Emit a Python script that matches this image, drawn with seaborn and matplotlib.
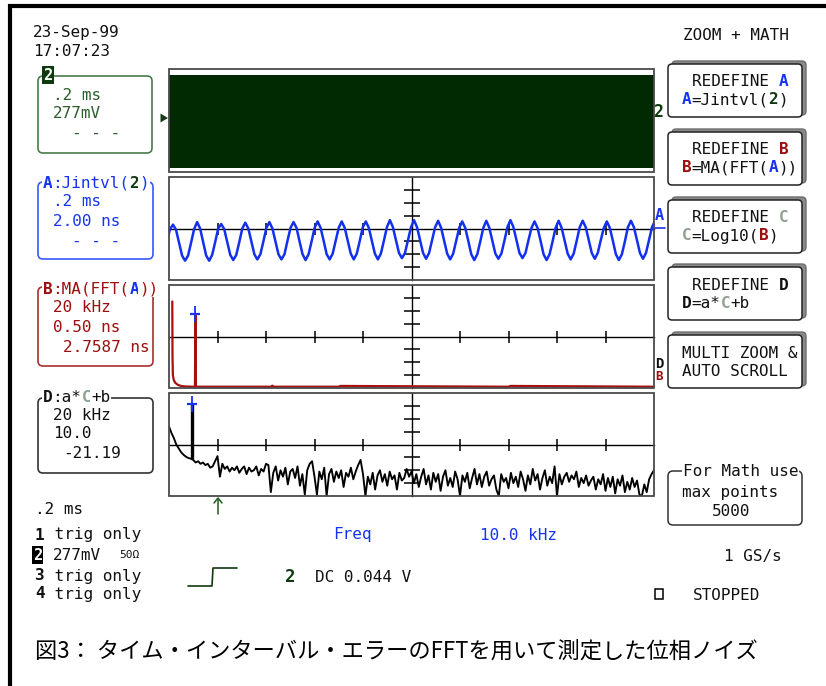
import numpy as np
import pandas as pd
import matplotlib
matplotlib.use("Agg")
import matplotlib.pyplot as plt
import seaborn as sns
from matplotlib.patches import FancyBboxPatch, Rectangle, Polygon

# ------------------------------------------------------------------ data
# Channel 2 (panel 1): envelope of the dense 10 kHz-modulated clock, mV
ch2_time_ms = [0.0, 2.0]
ch2_top_mV = [978.0, 978.0]
ch2_bottom_mV = [-1022.0, -1022.0]

# Trace A: Jintvl(2) - time-interval error, ns (uniform sample clock)
A_t_start_ms = -0.0083
A_dt_ms = 0.012423
A_jitter_ns = [
    -2.0,
    -0.1, 0.6, -0.2, -2.2, -4.2, -5.0, -4.2, -2.2,
    -0.1, 1.0, 0.0, -2.1, -4.2, -5.0, -4.1, -2.1,
    0.0, 0.7, -0.1, -2.1, -4.1, -4.9, -4.1, -2.1,
    0.0, 0.9, 0.0, -2.0, -4.0, -4.8, -4.0, -2.0,
    0.1, 1.0, 0.0, -2.0, -4.0, -4.8, -4.0, -1.9,
    0.1, 1.0, 0.1, -2.0, -4.0, -4.9, -4.0, -2.0,
    0.1, 1.1, 0.1, -1.9, -4.0, -4.8, -3.9, -1.9,
    0.1, 1.1, 0.1, -1.9, -3.9, -4.8, -3.9, -1.9,
    0.2, 1.1, 0.1, -1.9, -3.9, -4.8, -3.9, -1.9,
    0.2, 1.3, 0.2, -1.8, -3.8, -4.6, -3.8, -1.8,
    0.2, 1.3, 0.2, -1.8, -3.8, -4.7, -3.8, -1.8,
    0.2, 1.2, 0.1, -1.9, -3.9, -4.8, -3.9, -1.9,
    0.1, 1.1, 0.1, -1.9, -4.0, -4.9, -4.0, -2.0,
    0.1, 1.2, 0.1, -1.9, -3.9, -4.7, -3.9, -1.9,
    0.2, 1.3, 0.2, -1.8, -3.8, -4.6, -3.8, -1.8,
    0.1, 1.1, 0.1, -1.9, -4.0, -4.9, -4.0, -2.0,
    0.1, 1.2, 0.1, -1.9, -3.9, -4.8, -3.9, -1.9,
    0.2, 1.2, 0.2, -1.8, -3.8, -4.7, -3.8, -1.8,
    0.1, 1.1, 0.1, -1.9, -4.0, -4.9, -4.0, -2.0,
    0.2, 1.2, 0.2, -1.8, -3.8, -4.7, -3.8, -1.8,
    0.2, 1.2,
]

# Trace B: MA(FFT(A)) magnitude, ns
B_freq_kHz = [1.36, 1.45, 1.6, 2.0, 2.6, 3.7, 5.0, 6.6, 10.7, 10.9, 11.1,
              42.0, 42.6, 43.2, 70.0, 70.6, 140.0, 140.8, 200.0]
B_mag_ns = [3.36, 1.2, 0.5, 0.3, 0.2, 0.12, 0.08, 0.06, 0.05, 2.88, 0.05,
            0.05, 0.09, 0.05, 0.05, 0.08, 0.05, 0.08, 0.05]
B_cursor_kHz = 10.9
B_cursor_ns = 2.88

# Trace D: a*Log10(B)+b, dB (1 kHz bins)
D_freq_step_kHz = 1.0
D_dB = [
    -39, -44, -48, -53, -56, -59, -61, -62.5, -63.5, -64,
    -65, -67, -66, -68, -67, -69, -68, -71, -70, -66,
    -62, -78, -68, -72, -70, -74, -71, -73, -70, -75,
    -72, -70, -76, -71, -74, -73, -70, -77, -72, -74,
    -68, -69, -90, -75, -70, -81, -73, -78, -71, -84,
    -74, -72, -79, -70, -85, -76, -92, -73, -68, -66,
    -78, -92, -74, -80, -71, -93, -76, -72, -82, -74,
    -79, -73, -86, -75, -78, -71, -80, -74, -69, -65,
    -76, -93, -78, -84, -75, -88, -77, -73, -82, -76,
    -85, -74, -80, -77, -88, -75, -81, -79, -72, -78,
    -74, -83, -76, -86, -78, -72, -84, -77, -88, -75,
    -82, -76, -89, -78, -73, -85, -79, -86, -74, -80,
    -93, -77, -82, -75, -87, -79, -72, -84, -76, -86,
    -78, -74, -85, -80, -77, -88, -93, -76, -82, -79,
    -87, -75, -83, -78, -86, -74, -80, -89, -77, -84,
    -72, -81, -76, -88, -79, -73, -85, -78, -83, -70,
    -93, -76, -84, -78, -75, -82, -77, -80, -74, -86,
    -79, -83, -77, -85, -81, -78, -88, -80, -84, -76,
    -89, -79, -86, -78, -91, -80, -85, -77, -90, -82,
    -88, -79, -86, -81, -92, -93, -84, -90, -80, -76, -73,
]
D_spike_kHz = 9.6
D_spike_base_dB = -64.0
D_spike_dB = -21.19

# Scales (per division) and axis ranges
time_per_div_ms = 0.2
freq_per_div_kHz = 20.0
ch2_mV_per_div = 277.0
A_ns_per_div = 2.0
B_ns_per_div = 0.5
B_center_ns = 2.0
D_dB_per_div = 10.0
D_center_dB = -53.0

# ------------------------------------------------------------------ style
sns.set_style("white")
plt.rcParams['font.family'] = ['DejaVu Sans Mono', 'DejaVu Sans']

W, H = 826, 686
fig = plt.figure(figsize=(W / 100, H / 100), dpi=100)
fig.patch.set_facecolor('white')

GREEN = '#0f3a0f'
GREEN_TXT = '#2d5e2d'
BLUE = '#1634f0'
RED = '#9c0f0f'
GRAY_C = '#8fa08f'
BLACK = '#111111'
FS = 11.5
CW = 0.602 * FS * 100 / 72


def px_rect(x0, y0, x1, y1):
    return [x0 / W, 1 - y1 / H, (x1 - x0) / W, (y1 - y0) / H]


# background overlay in pixel coordinates
bg = fig.add_axes([0, 0, 1, 1], zorder=0)
bg.set_xlim(0, W)
bg.set_ylim(H, 0)
bg.axis('off')


def seg_text(x, y, segs, fs=FS, mask=False):
    cw = CW * fs / FS
    for s, color, bold in segs:
        kw = {}
        if mask:
            kw['bbox'] = dict(fc='white', ec='none', pad=0.6)
        bg.text(x, y, s, color=color, fontsize=fs,
                fontweight='bold' if bold else 'normal',
                family='DejaVu Sans Mono', ha='left', va='center',
                zorder=6, **kw)
        x += len(s) * cw


def rbox(x0, y0, x1, y1, ec, lw=1.2, r=5, fc='white', z=2):
    bg.add_patch(FancyBboxPatch((x0, y0), x1 - x0, y1 - y0,
                                boxstyle=f'round,pad=0,rounding_size={r}',
                                fc=fc, ec=ec, lw=lw, zorder=z))


# outer frame (left + top)
bg.plot([9.5, 9.5], [4, H], color='black', lw=3, solid_capstyle='butt')
bg.plot([8, W], [5.5, 5.5], color='black', lw=3, solid_capstyle='butt')

# ------------------------------------------------------------------ panels
PX0, PX1 = 169, 654
panel_y = [(69, 172), (177, 280), (285, 388), (393, 496)]


def setup_panel(ax, xlim, ylim, xdiv, ydiv, cross=True):
    ax.set_xlim(*xlim)
    ax.set_ylim(*ylim)
    ax.set_facecolor('white')
    xmid = (xlim[0] + xlim[1]) / 2
    ymid = (ylim[0] + ylim[1]) / 2
    for s in ['top', 'right']:
        ax.spines[s].set_visible(False)
    if cross:
        ax.spines['left'].set_position(('data', xmid))
        ax.spines['bottom'].set_position(('data', ymid))
        for s in ['left', 'bottom']:
            ax.spines[s].set_visible(True)
            ax.spines[s].set_color('black')
            ax.spines[s].set_linewidth(1.0)
            ax.spines[s].set_zorder(1.5)
        ax.set_xticks([xlim[0] + i * xdiv for i in range(1, 10) if i != 5])
        ax.set_yticks([ylim[0] + i * ydiv for i in range(1, 8) if i != 4])
        ax.tick_params(axis='x', which='major', bottom=True, top=False,
                       direction='inout', length=8, width=1.1,
                       color='black', labelbottom=False)
        ax.tick_params(axis='y', which='major', left=True, right=False,
                       direction='inout', length=11, width=1.1,
                       color='black', labelleft=False)
    else:
        for s in ['left', 'bottom']:
            ax.spines[s].set_visible(False)
        ax.set_xticks([])
        ax.set_yticks([])
    ax.set_xlabel('')
    ax.set_ylabel('')
    ax.add_patch(Rectangle((0, 0), 1, 1, transform=ax.transAxes, fill=False,
                           ec='#4a4a4a', lw=1.3, clip_on=False, zorder=5))


axes = [fig.add_axes(px_rect(PX0, y0, PX1, y1), zorder=1) for (y0, y1) in panel_y]
t_lim = (0.0, 10 * time_per_div_ms)
f_lim = (0.0, 10 * freq_per_div_kHz)

# Panel 1: channel 2
ax = axes[0]
setup_panel(ax, t_lim, (-4 * ch2_mV_per_div, 4 * ch2_mV_per_div),
            time_per_div_ms, ch2_mV_per_div, cross=False)
ax.fill_between(ch2_time_ms, ch2_bottom_mV, ch2_top_mV, color='#012a03', lw=0)

# Panel 2: A
ax = axes[1]
A_time = A_t_start_ms + A_dt_ms * np.arange(len(A_jitter_ns))
dfA = pd.DataFrame({'t': A_time, 'v': A_jitter_ns})
sns.lineplot(data=dfA, x='t', y='v', ax=ax, color='#1230ee', lw=1.8,
             estimator=None, sort=False, legend=False, zorder=3)
setup_panel(ax, t_lim, (-4 * A_ns_per_div, 4 * A_ns_per_div),
            time_per_div_ms, A_ns_per_div)

# Panel 3: B
ax = axes[2]
dfB = pd.DataFrame({'f': B_freq_kHz, 'v': B_mag_ns})
sns.lineplot(data=dfB, x='f', y='v', ax=ax, color='#a81010', lw=1.6,
             estimator=None, sort=False, legend=False, zorder=3)
ax.plot([B_cursor_kHz], [B_cursor_ns], marker='|', ms=12, mew=1.3, color=BLUE, zorder=6)
ax.plot([B_cursor_kHz], [B_cursor_ns], marker='_', ms=7, mew=1.6, color=BLUE, zorder=6)
setup_panel(ax, f_lim, (B_center_ns - 4 * B_ns_per_div, B_center_ns + 4 * B_ns_per_div),
            freq_per_div_kHz, B_ns_per_div)

# Panel 4: D
ax = axes[3]
dfD = pd.DataFrame({'f': np.arange(len(D_dB)) * D_freq_step_kHz, 'v': D_dB})
sns.lineplot(data=dfD, x='f', y='v', ax=ax, color='black', lw=1.35,
             estimator=None, sort=False, legend=False, zorder=3)
ax.vlines(D_spike_kHz, D_spike_base_dB, D_spike_dB, color='black', lw=2.4, zorder=3)
ax.plot([D_spike_kHz], [D_spike_dB], marker='|', ms=11, mew=1.3, color=BLUE, zorder=6)
ax.plot([D_spike_kHz], [D_spike_dB], marker='_', ms=7, mew=1.6, color=BLUE, zorder=6)
setup_panel(ax, f_lim, (D_center_dB - 4 * D_dB_per_div, D_center_dB + 4 * D_dB_per_div),
            freq_per_div_kHz, D_dB_per_div)

# ------------------------------------------------------------------ texts / decorations
seg_text(33, 33, [('23-Sep-99', BLACK, False)])
seg_text(33, 52, [('17:07:23', BLACK, False)])

# Box for channel 2
rbox(38, 76, 152, 153, ec='#4a7a4a')
bg.text(48, 75, '2', color='white', fontsize=11, fontweight='bold',
        ha='center', va='center', zorder=7,
        bbox=dict(boxstyle='square,pad=0.08', fc=GREEN, ec='none'))
seg_text(53, 96, [('.2 ms', GREEN_TXT, False)])
seg_text(53, 114, [('277mV', GREEN_TXT, False)])
seg_text(72, 134, [('- - -', GREEN_TXT, False)])
bg.add_patch(Polygon([(160.5, 113.5), (160.5, 122.5), (168, 118)], closed=True,
                     fc='#1a3a1a', ec='none', zorder=3))

# Box A
rbox(38, 182, 153, 259, ec='#3a58ff')
seg_text(43, 183, [('A', BLUE, True), (':Jintvl(', BLUE, False), ('2', GREEN, True),
                   (')', BLUE, False)], mask=True)
seg_text(53, 202, [('.2 ms', BLUE, False)])
seg_text(53, 222, [('2.00 ns', BLUE, False)])
seg_text(72, 241, [('- - -', BLUE, False)])

# Box B
rbox(38, 287, 153, 366, ec='#a83030')
seg_text(43, 289, [('B', RED, True), (':MA(FFT(', RED, False), ('A', BLUE, True),
                   ('))', RED, False)], mask=True)
seg_text(53, 308, [('20 kHz', RED, False)])
seg_text(53, 328, [('0.50 ns', RED, False)])
seg_text(63, 347, [('2.7587 ns', RED, False)])

# Box D
rbox(38, 398, 153, 473, ec='#333333')
seg_text(43, 398, [('D', BLACK, True), (':a*', BLACK, False), ('C', GRAY_C, True),
                   ('+b', BLACK, False)], mask=True)
seg_text(53, 415, [('20 kHz', BLACK, False)])
seg_text(53, 434, [('10.0', BLACK, False)])
seg_text(63, 453, [('-21.19', BLACK, False)])

# right-edge trace markers
bg.text(658, 112, '2', color=GREEN, fontsize=12, fontweight='bold', ha='center', va='center')
bg.text(659, 216, 'A', color=BLUE, fontsize=11, fontweight='bold', ha='center', va='center')
bg.plot([653, 665], [228, 228], color=BLUE, lw=1.2)
bg.text(659, 364, 'D', color=BLACK, fontsize=10, fontweight='bold', ha='center', va='center')
bg.text(659, 377, 'B', color=RED, fontsize=9, fontweight='bold', ha='center', va='center')

# right menu
seg_text(683, 36, [('ZOOM + MATH', BLACK, False)])
btn_tops = [61, 129, 197, 264, 332]
btn_lines = [
    ([('REDEFINE ', BLACK, False), ('A', BLUE, True)],
     [('A', BLUE, True), ('=Jintvl(', BLACK, False), ('2', GREEN, True), (')', BLACK, False)]),
    ([('REDEFINE ', BLACK, False), ('B', RED, True)],
     [('B', RED, True), ('=MA(FFT(', BLACK, False), ('A', BLUE, True), ('))', BLACK, False)]),
    ([('REDEFINE ', BLACK, False), ('C', GRAY_C, True)],
     [('C', GRAY_C, True), ('=Log10(', BLACK, False), ('B', RED, True), (')', BLACK, False)]),
    ([('REDEFINE ', BLACK, False), ('D', BLACK, True)],
     [('D', BLACK, True), ('=a*', BLACK, False), ('C', GRAY_C, True), ('+b', BLACK, False)]),
    ([('MULTI ZOOM &', BLACK, False)], [('AUTO SCROLL', BLACK, False)]),
]
for top, (l1, l2) in zip(btn_tops, btn_lines):
    rbox(672, top, 806, top + 54, ec='#6e6e6e', fc='#8a8a8a', lw=1.0, r=4, z=1)
    rbox(668, top + 3, 802, top + 56, ec='#222222', lw=1.1, r=4, z=2)
    x1 = 682 if l1[0][0].startswith('MULTI') else 692
    seg_text(x1, top + 21, l1)
    seg_text(682, top + 39, l2)

# For Math box
rbox(668, 471, 802, 525, ec='#333333', lw=1.1)
seg_text(683, 471, [('For Math use', BLACK, False)], mask=True)
seg_text(682, 492, [('max points', BLACK, False)])
seg_text(712, 512, [('5000', BLACK, False)])
seg_text(724, 557, [('1 GS/s', BLACK, False)])
bg.add_patch(Rectangle((654.5, 588.5), 8, 10, fill=False, ec='black', lw=1.1))
seg_text(693, 595, [('STOPPED', BLACK, False)])

# bottom status area
seg_text(35, 509, [('.2 ms', BLACK, False)])
seg_text(35, 535, [('1', BLACK, True), (' trig only', BLACK, False)])
bg.text(37.5, 555, '2', color='white', fontsize=11, fontweight='bold', ha='center',
        va='center', zorder=7, bbox=dict(boxstyle='square,pad=0.08', fc='black', ec='none'))
seg_text(53, 555, [('277mV', BLACK, False)])
seg_text(119, 555, [('50Ω', BLACK, False)], fs=8)
seg_text(35, 576, [('3', BLACK, True), (' trig only', BLACK, False)])
seg_text(35, 594, [('4', BLACK, True), (' trig only', BLACK, False)])
seg_text(333, 535, [('Freq', BLUE, False)])
seg_text(480, 535, [('10.0 kHz', BLUE, False)])
bg.plot([188, 212, 213, 237], [586, 586, 568, 568], color=GREEN, lw=1.2)
seg_text(285, 577, [('2', GREEN, True)], fs=12.5)
seg_text(315, 577, [('DC 0.044 V', BLACK, False)])
bg.plot([218, 218], [500, 514], color='#1d5a1d', lw=1.1)
bg.plot([214, 218, 222], [503, 498, 503], color='#1d5a1d', lw=1.1)

# caption
bg.text(35, 651, '図3： タイム・インターバル・エラーのFFTを用いて測定した位相ノイズ',
        fontsize=16, family=['Noto Sans CJK JP', 'DejaVu Sans'], color='black',
        ha='left', va='center')

fig.savefig('out.png', dpi=100, facecolor='white')
